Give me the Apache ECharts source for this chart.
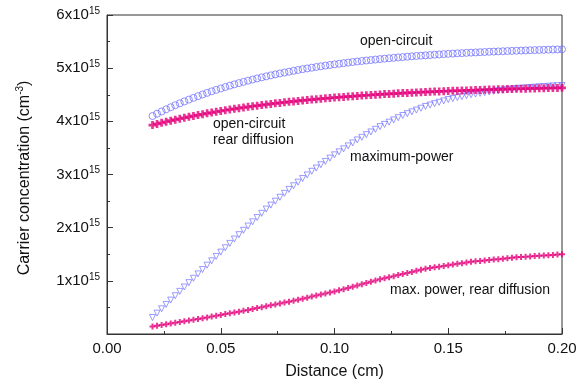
<!DOCTYPE html>
<html>
<head>
<meta charset="utf-8">
<script src="https://cdn.jsdelivr.net/npm/echarts@6/dist/echarts.min.js"></script>
<style>
  html, body { margin: 0; padding: 0; background: #fff; }
  #chart { width: 586px; height: 390px; }
</style>
</head>
<body>
<div id="chart"></div>
<script>
// distance grid (cm): 0.020 ... 0.200, step 0.002
const xStart = 0.02;
const xStep = 0.002;

// carrier concentration, units of 1e15 cm^-3
const openCircuit = [
  4.100, 4.143, 4.185, 4.226, 4.265, 4.303, 4.339, 4.375, 4.409, 4.442,
  4.474, 4.505, 4.535, 4.564, 4.592, 4.619, 4.646, 4.671, 4.696, 4.719,
  4.742, 4.765, 4.786, 4.807, 4.827, 4.846, 4.865, 4.883, 4.901, 4.918,
  4.934, 4.950, 4.966, 4.981, 4.995, 5.009, 5.022, 5.035, 5.048, 5.060,
  5.072, 5.083, 5.094, 5.105, 5.115, 5.125, 5.135, 5.144, 5.153, 5.162,
  5.171, 5.179, 5.187, 5.194, 5.202, 5.209, 5.216, 5.223, 5.229, 5.235,
  5.241, 5.247, 5.253, 5.258, 5.264, 5.269, 5.274, 5.279, 5.283, 5.288,
  5.292, 5.296, 5.300, 5.304, 5.308, 5.312, 5.315, 5.319, 5.322, 5.325,
  5.328, 5.331, 5.334, 5.337, 5.340, 5.342, 5.345, 5.347, 5.350, 5.352,
  5.354
];
const openCircuitRear = [
  3.930, 3.951, 3.972, 3.992, 4.012, 4.031, 4.049, 4.067, 4.085, 4.102,
  4.118, 4.134, 4.150, 4.165, 4.180, 4.194, 4.208, 4.222, 4.235, 4.248,
  4.260, 4.272, 4.284, 4.295, 4.306, 4.317, 4.327, 4.338, 4.347, 4.357,
  4.366, 4.375, 4.384, 4.393, 4.401, 4.409, 4.417, 4.425, 4.432, 4.439,
  4.446, 4.453, 4.460, 4.466, 4.472, 4.478, 4.484, 4.490, 4.496, 4.501,
  4.506, 4.512, 4.516, 4.521, 4.526, 4.531, 4.535, 4.539, 4.543, 4.548,
  4.552, 4.555, 4.559, 4.563, 4.566, 4.570, 4.573, 4.576, 4.579, 4.582,
  4.585, 4.588, 4.591, 4.594, 4.597, 4.599, 4.602, 4.604, 4.606, 4.609,
  4.611, 4.613, 4.615, 4.617, 4.619, 4.621, 4.623, 4.625, 4.627, 4.628,
  4.630
];
const maximumPower = [
  0.310, 0.392, 0.474, 0.556, 0.638, 0.720, 0.802, 0.884, 0.966, 1.048,
  1.130, 1.212, 1.294, 1.376, 1.458, 1.540, 1.622, 1.704, 1.786, 1.868,
  1.950, 2.030, 2.110, 2.190, 2.270, 2.350, 2.424, 2.498, 2.572, 2.646,
  2.720, 2.788, 2.856, 2.924, 2.992, 3.060, 3.122, 3.184, 3.246, 3.308,
  3.370, 3.426, 3.482, 3.538, 3.594, 3.650, 3.700, 3.750, 3.800, 3.850,
  3.900, 3.942, 3.984, 4.026, 4.068, 4.110, 4.144, 4.178, 4.212, 4.246,
  4.280, 4.306, 4.332, 4.358, 4.384, 4.410, 4.428, 4.446, 4.464, 4.482,
  4.500, 4.513, 4.526, 4.539, 4.552, 4.565, 4.575, 4.585, 4.595, 4.605,
  4.615, 4.622, 4.629, 4.636, 4.643, 4.650, 4.655, 4.660, 4.665, 4.670,
  4.675
];
const maxPowerRear = [
  0.140, 0.154, 0.168, 0.182, 0.196, 0.210, 0.224, 0.238, 0.252, 0.266,
  0.280, 0.296, 0.311, 0.327, 0.342, 0.358, 0.374, 0.389, 0.405, 0.420,
  0.436, 0.453, 0.470, 0.488, 0.505, 0.522, 0.539, 0.556, 0.574, 0.591,
  0.608, 0.627, 0.646, 0.665, 0.684, 0.703, 0.722, 0.741, 0.760, 0.779,
  0.798, 0.821, 0.844, 0.867, 0.890, 0.913, 0.936, 0.959, 0.982, 1.005,
  1.028, 1.048, 1.068, 1.088, 1.108, 1.128, 1.148, 1.168, 1.188, 1.208,
  1.228, 1.241, 1.254, 1.267, 1.280, 1.293, 1.306, 1.319, 1.332, 1.345,
  1.358, 1.366, 1.375, 1.383, 1.392, 1.400, 1.408, 1.417, 1.425, 1.434,
  1.442, 1.448, 1.454, 1.459, 1.465, 1.471, 1.477, 1.483, 1.488, 1.494,
  1.500
];

const xTickLabels = ["0.00", "0.05", "0.10", "0.15", "0.20"];

const BLUE = "#7474ff";
const PINK = "#e4007a";
const FONT = "Liberation Sans, Arial, sans-serif";
const PLUS = "path://M2,0H4V2H6V4H4V6H2V4H0V2H2Z";

const pairs = (ys) => ys.map((y, i) => [+(xStart + i * xStep).toFixed(3), y]);

const chart = echarts.init(document.getElementById("chart"), null, { renderer: "canvas" });

chart.setOption({
  backgroundColor: "#fff",
  animation: false,
  textStyle: { fontFamily: FONT },
  grid: {
    left: 107, right: 24, top: 15, bottom: 56,
    show: true, borderColor: "#333", borderWidth: 1, backgroundColor: "transparent"
  },
  xAxis: {
    type: "value",
    min: 0, max: 0.2, interval: 0.05,
    name: "Distance (cm)",
    nameLocation: "middle",
    nameGap: 30,
    nameTextStyle: { fontSize: 16, color: "#111", fontFamily: FONT },
    axisLine: { lineStyle: { color: "#333" } },
    axisTick: { inside: true, length: 6, lineStyle: { color: "#333" } },
    minorTick: { show: true, splitNumber: 2, length: 3, lineStyle: { color: "#333" } },
    splitLine: { show: false },
    axisLabel: {
      fontSize: 15, color: "#111", margin: 7, fontFamily: FONT,
      formatter: (v) => xTickLabels[Math.round(v / 0.05)]
    }
  },
  yAxis: {
    type: "value",
    min: 0, max: 6, interval: 1,
    axisLine: { show: true, lineStyle: { color: "#333" } },
    axisTick: { inside: true, length: 6, lineStyle: { color: "#333" } },
    minorTick: { show: true, splitNumber: 2, length: 3, lineStyle: { color: "#333" } },
    splitLine: { show: false },
    axisLabel: {
      color: "#111", margin: 7,
      formatter: (v) => (v === 0 ? "" : "{a|" + v + "x10}{s|15}"),
      rich: {
        a: { fontSize: 15, fontFamily: FONT, color: "#111", lineHeight: 18 },
        s: { fontSize: 10, fontFamily: FONT, color: "#111", verticalAlign: "top", lineHeight: 10, padding: [0, 0, 6, 0] }
      }
    }
  },
  graphic: [
    {
      type: "text", x: 25, y: 178, rotation: Math.PI / 2,
      style: {
        text: "{a|Carrier concentration (cm}{s|-3}{a|)}",
        align: "center", verticalAlign: "middle",
        rich: {
          a: { fontSize: 16, fontFamily: FONT, fill: "#111", lineHeight: 20 },
          s: { fontSize: 10, fontFamily: FONT, fill: "#111", verticalAlign: "top", lineHeight: 10, padding: [0, 0, 8, 0] }
        }
      }
    },
    { type: "text", x: 360, y: 41, style: { text: "open-circuit", font: "14px " + FONT, fill: "#111", verticalAlign: "middle" } },
    { type: "text", x: 213, y: 124, style: { text: "open-circuit", font: "14px " + FONT, fill: "#111", verticalAlign: "middle" } },
    { type: "text", x: 213, y: 140, style: { text: "rear diffusion", font: "14px " + FONT, fill: "#111", verticalAlign: "middle" } },
    { type: "text", x: 350, y: 157, style: { text: "maximum-power", font: "14px " + FONT, fill: "#111", verticalAlign: "middle" } },
    { type: "text", x: 390, y: 290, style: { text: "max. power, rear diffusion", font: "14px " + FONT, fill: "#111", verticalAlign: "middle" } }
  ],
  series: [
    {
      name: "max. power, rear diffusion", type: "scatter",
      data: pairs(maxPowerRear),
      symbol: PLUS, symbolSize: 6,
      itemStyle: { color: PINK }
    },
    {
      name: "maximum-power", type: "scatter",
      data: pairs(maximumPower),
      symbol: "triangle", symbolRotate: 180, symbolSize: 6,
      itemStyle: { color: "transparent", borderColor: BLUE, borderWidth: 0.9 }
    },
    {
      name: "open-circuit rear diffusion", type: "scatter",
      data: pairs(openCircuitRear),
      symbol: PLUS, symbolSize: 8,
      itemStyle: { color: PINK }
    },
    {
      name: "open-circuit", type: "scatter",
      data: pairs(openCircuit),
      symbol: "circle", symbolSize: 7,
      itemStyle: { color: "transparent", borderColor: BLUE, borderWidth: 1 }
    }
  ]
});
</script>
</body>
</html>
